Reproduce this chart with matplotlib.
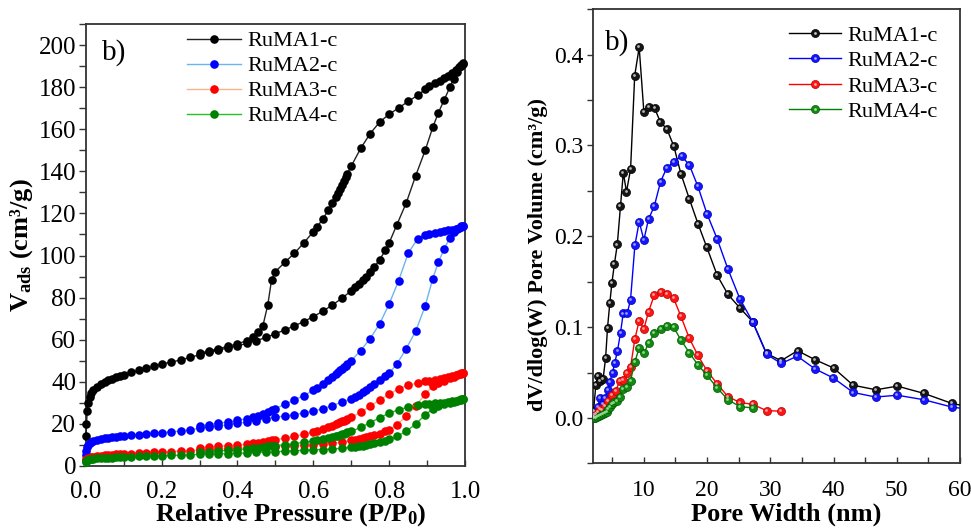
import matplotlib
matplotlib.use('Agg')
import matplotlib.pyplot as plt
from matplotlib.ticker import MultipleLocator, FormatStrFormatter
from matplotlib.transforms import offset_copy
from matplotlib.legend_handler import HandlerTuple

plt.rcParams['font.family'] = ['Liberation Serif', 'DejaVu Serif']
plt.rcParams['mathtext.fontset'] = 'custom'
plt.rcParams['mathtext.rm'] = 'Liberation Serif'
plt.rcParams['mathtext.bf'] = 'Liberation Serif:bold'
plt.rcParams['mathtext.it'] = 'Liberation Serif:italic'

samples = ['RuMA1-c', 'RuMA2-c', 'RuMA3-c', 'RuMA4-c']

# ---------------- N2 isotherms: relative pressure grids ----------------
ads_p = [0.001, 0.002, 0.004, 0.007, 0.01, 0.015, 0.02, 0.03, 0.04, 0.05,
         0.06, 0.07, 0.08, 0.09, 0.10, 0.12, 0.14, 0.16, 0.18, 0.20,
         0.225, 0.25, 0.275, 0.30, 0.325, 0.35, 0.375, 0.40, 0.425, 0.45,
         0.475, 0.50, 0.525, 0.55, 0.575, 0.60, 0.625, 0.65, 0.675, 0.70,
         0.71, 0.72, 0.73, 0.74, 0.75, 0.76, 0.775, 0.79, 0.80, 0.82,
         0.845, 0.87, 0.895, 0.915, 0.93, 0.945, 0.96, 0.97, 0.98, 0.99, 0.995]
des_p = [0.995, 0.99, 0.985, 0.975, 0.965, 0.955, 0.945, 0.935, 0.92, 0.905,
         0.895, 0.875, 0.85, 0.825, 0.80, 0.775, 0.75, 0.725, 0.70, 0.69,
         0.685, 0.68, 0.675, 0.67, 0.665, 0.66, 0.65, 0.64, 0.625, 0.61,
         0.60, 0.575, 0.55, 0.525, 0.50, 0.49, 0.48, 0.467, 0.455, 0.44,
         0.425, 0.40, 0.375, 0.35, 0.325, 0.30]

# adsorbed volume (cm3/g), adsorption branch
ads_v1 = [14, 20, 26, 30, 32.5, 34.5, 35.8, 37.5, 38.8, 39.8,
          40.6, 41.4, 42.1, 42.7, 43.3, 44.4, 45.4, 46.4, 47.4, 48.3,
          49.3, 50.3, 51.5, 52.8, 54, 55, 56, 57, 58.2, 59.5,
          61, 62.8, 64.6, 66.5, 68.6, 70.9, 73.5, 76.4, 79.6, 83.2,
          84.8, 86.5, 88.2, 90, 92, 94.4, 98, 102.5, 106, 114.5,
          125, 138, 150, 161, 168, 174, 180, 184, 187.5, 190, 191]
ads_v2 = [5, 7, 8.8, 10, 10.8, 11.5, 11.9, 12.4, 12.8, 13.1,
          13.4, 13.6, 13.8, 14, 14.2, 14.5, 14.8, 15.1, 15.4, 15.7,
          16.1, 16.5, 17.1, 17.8, 18.4, 18.9, 19.5, 20.1, 20.8, 21.5,
          22.3, 23.1, 23.6, 24.3, 25.1, 26, 27.1, 28.6, 30.2, 31.9,
          32.8, 33.8, 35, 36.2, 37.4, 38.7, 40.6, 42.7, 44, 48.3,
          55.7, 64, 76, 89, 97, 103, 108.5, 111, 112.6, 113.7, 114.2]
ads_v3 = [2.5, 3, 3.4, 3.7, 3.9, 4.1, 4.3, 4.6, 4.8, 5,
          5.2, 5.3, 5.4, 5.5, 5.6, 5.8, 6, 6.1, 6.3, 6.5,
          6.7, 7, 7.2, 7.5, 7.7, 7.9, 8.1, 8.3, 8.5, 8.7,
          8.9, 9.1, 9.3, 9.5, 9.7, 10, 10.3, 10.7, 11.2, 12,
          12.3, 12.7, 13.1, 13.5, 14, 14.5, 15.3, 16.3, 17, 19.5,
          23.5, 28.5, 34, 38, 39.5, 40.5, 41.5, 42.2, 43, 43.8, 44.2]
ads_v4 = [1.8, 2.2, 2.5, 2.8, 3, 3.2, 3.3, 3.5, 3.6, 3.7,
          3.8, 3.9, 4, 4.1, 4.2, 4.3, 4.4, 4.5, 4.6, 4.7,
          4.9, 5, 5.2, 5.4, 5.5, 5.6, 5.8, 5.9, 6.1, 6.3,
          6.5, 6.7, 6.9, 7.1, 7.3, 7.5, 7.7, 7.9, 8.3, 8.8,
          9, 9.3, 9.6, 9.9, 10.3, 10.7, 11.3, 11.9, 12.5, 14,
          16.3, 19.8, 24.2, 27, 28.5, 29.2, 29.8, 30.3, 30.8, 31.3, 31.7]

# adsorbed volume (cm3/g), desorption branch
des_v1 = [191.5, 190.5, 189.5, 188.3, 186.8, 185.5, 184.5, 183.2, 182, 180.5,
          179, 176.2, 173.3, 170.2, 167.2, 163.5, 158, 151, 142.5, 139,
          137.2, 135.5, 133.5, 131.5, 129.5, 127.8, 125, 121.5, 117.5, 113.5,
          111.3, 106, 101, 96.8, 92.3, 88.5, 76.5, 66.5, 63.5, 61,
          59.5, 58, 56.8, 55.7, 54.6, 53.5]
des_v2 = [114.2, 113.8, 113.3, 112.8, 112.3, 112, 111.6, 111.2, 110.8, 110.2,
          109.8, 108, 101, 88, 77, 67.5, 60.5, 54.8, 50, 48.4,
          47.6, 46.8, 46, 45.3, 44.6, 43.8, 42.4, 40.8, 38.8, 37,
          35.8, 33.4, 31.3, 29.2, 27.2, 26.5, 25.6, 24.6, 23.8, 23,
          22.4, 21.6, 20.8, 20.2, 19.6, 19]
des_v3 = [44.3, 44, 43.6, 43.1, 42.6, 42.1, 41.6, 41.2, 40.8, 40.4,
          40.1, 39.4, 38.3, 36.6, 34, 31.3, 28.3, 25.4, 23, 22.3,
          21.9, 21.5, 21.1, 20.7, 20.3, 19.9, 19.1, 18.3, 17.3, 16.5,
          16, 14.9, 13.9, 13.1, 12.4, 12.1, 11.8, 11.4, 11, 10.6,
          10.2, 9.8, 9.5, 9.2, 8.9, 8.6]
des_v4 = [31.8, 31.5, 31.2, 30.9, 30.6, 30.3, 30, 29.8, 29.6, 29.4,
          29.3, 28.9, 27.9, 26.6, 25, 22.8, 20.5, 18.2, 16.3, 15.8,
          15.5, 15.2, 14.9, 14.6, 14.3, 14, 13.6, 13.1, 12.6, 12.1,
          11.8, 11.1, 10.5, 10, 9.6, 9.4, 9.2, 8.9, 8.6, 8.3,
          8, 7.6, 7.3, 7, 6.7, 6.4]

# ---------------- pore size distributions ----------------
w1 = [2.05, 2.4, 2.7, 3.0, 3.55, 3.95, 4.25, 4.62, 4.95, 5.35, 5.8, 6.3,
      6.75, 7.25, 7.9, 8.55, 9.26, 10.0, 10.8, 11.7, 12.6, 13.65, 14.75,
      15.85, 17.2, 18.55, 19.95, 21.6, 23.3, 25.2, 27.2, 29.4, 31.7, 34.3,
      37.1, 40.0, 43.1, 46.7, 50.1, 54.3, 58.7, 63.0]
d1 = [0.008, 0.036, 0.046, 0.041, 0.043, 0.066, 0.099, 0.127, 0.149, 0.170,
      0.191, 0.233, 0.270, 0.249, 0.274, 0.377, 0.408, 0.337, 0.342, 0.341,
      0.326, 0.318, 0.299, 0.269, 0.241, 0.214, 0.188, 0.157, 0.136, 0.121,
      0.106, 0.071, 0.063, 0.074, 0.064, 0.055, 0.036, 0.031, 0.035, 0.027,
      0.016, 0.010]
w2 = [2.1, 2.7, 3.1, 3.5, 3.9, 4.35, 4.62, 5.04, 5.41, 5.83, 6.31, 6.73,
      7.36, 7.89, 8.58, 9.26, 10.0, 10.74, 11.64, 12.64, 13.59, 14.69, 15.96,
      17.17, 18.54, 19.97, 21.6, 23.29, 25.19, 27.19, 29.41, 31.73, 34.26,
      37.06, 39.96, 43.12, 46.66, 50.08, 54.3, 58.68, 63.0]
d2 = [0.003, 0.012, 0.022, 0.015, 0.022, 0.031, 0.040, 0.050, 0.061, 0.074,
      0.094, 0.115, 0.115, 0.130, 0.190, 0.216, 0.196, 0.219, 0.233, 0.260,
      0.275, 0.282, 0.288, 0.279, 0.255, 0.225, 0.197, 0.164, 0.131, 0.106,
      0.070, 0.060, 0.068, 0.054, 0.044, 0.028, 0.023, 0.025, 0.020, 0.012,
      0.008]
w3 = [2.1, 2.4, 2.7, 3.04, 3.4, 3.8, 4.36, 4.99, 5.57, 6.2, 6.73, 7.26,
      7.89, 8.58, 9.26, 10.0, 10.74, 11.64, 12.64, 13.59, 14.69, 15.85,
      17.17, 18.54, 19.97, 21.6, 23.29, 25.19, 27.19, 29.41, 31.73]
d3 = [0.001, 0.004, 0.007, 0.010, 0.009, 0.013, 0.019, 0.025, 0.030, 0.041,
      0.042, 0.049, 0.056, 0.087, 0.107, 0.098, 0.117, 0.135, 0.139, 0.137,
      0.132, 0.112, 0.088, 0.069, 0.052, 0.0375, 0.0235, 0.017, 0.015,
      0.008, 0.0074]
w4 = [2.1, 2.35, 2.6, 2.9, 3.2, 3.5, 3.8, 4.1, 4.4, 4.7, 5.0, 5.35, 5.7,
      6.2, 6.73, 7.26, 7.89, 8.58, 9.26, 10.0, 10.74, 11.64, 12.64, 13.59,
      14.69, 15.85, 17.17, 18.54, 19.97, 21.6, 23.29, 25.19, 27.19]
d4 = [0.000, 0.000, 0.001, 0.002, 0.003, 0.004, 0.005, 0.007, 0.010, 0.012,
      0.015, 0.017, 0.019, 0.023, 0.032, 0.034, 0.041, 0.062, 0.077, 0.071,
      0.082, 0.093, 0.098, 0.101, 0.100, 0.086, 0.072, 0.0585, 0.047, 0.033,
      0.020, 0.0125, 0.011]

# ---------------- styling ----------------
marker_colors = ['#000000', '#0000ff', '#ff0000', '#008000']
iso_line_colors = ['#222222', '#6cb4f0', '#f4b48c', '#22c322']
psd_line_colors = ['#000000', '#0000ff', '#ff0000', '#008000']
ball_faces = ['#151515', '#1414ff', '#ff1414', '#128a12']
ball_edges = ['#000000', '#0000b0', '#b00000', '#005a00']
ball_lights = ['#c8c8c8', '#a8a8ff', '#ffb0b0', '#9ee09e']

SPINE = '#333333'
fig = plt.figure(figsize=(9.71, 5.30), dpi=100)
ax1 = fig.add_axes([0.0883, 0.1213, 0.3906, 0.8329])
ax2 = fig.add_axes([0.6110, 0.1258, 0.3777, 0.8567])

# ---- left: isotherms ----
ads_sets = [ads_v1, ads_v2, ads_v3, ads_v4]
des_sets = [des_v1, des_v2, des_v3, des_v4]
for i, name in enumerate(samples):
    p = ads_p + des_p
    v = ads_sets[i] + des_sets[i]
    ax1.plot(p, v, '-o', color=iso_line_colors[i], lw=1.0, ms=6.2,
             mfc=marker_colors[i], mec=marker_colors[i], mew=0,
             label=name, clip_on=False, zorder=3)

ax1.set_xlim(0, 1.0)
ax1.set_ylim(0, 210)
ax1.xaxis.set_major_locator(MultipleLocator(0.2))
ax1.xaxis.set_minor_locator(MultipleLocator(0.1))
ax1.yaxis.set_major_locator(MultipleLocator(20))
ax1.yaxis.set_minor_locator(MultipleLocator(10))
ax1.xaxis.set_major_formatter(FormatStrFormatter('%.1f'))
ax1.tick_params(axis='x', which='both', direction='in', length=4.5, width=1.0,
                color=SPINE, labelsize=18, pad=11, top=False)
ax1.tick_params(axis='y', which='both', direction='out', length=5, width=1.0,
                color=SPINE, labelsize=18, pad=2, right=False)
for s in ax1.spines.values():
    s.set_color(SPINE)
    s.set_linewidth(1.3)
ax1.set_xlabel(r'Relative Pressure (P/P$_\mathbf{0}$)', fontsize=19,
               fontweight='bold', va='center')
ax1.xaxis.set_label_coords(0.541, -0.110)
ax1.set_ylabel(r'V$_\mathbf{ads}$ (cm³/g)', fontsize=19, fontweight='bold')
ax1.yaxis.set_label_coords(-0.135, 0.5)
ax1.text(0.043, 0.937, 'b)', transform=ax1.transAxes, fontsize=21,
         va='center', ha='left')
ax1.legend(loc='upper left', bbox_to_anchor=(0.268, 0.985), frameon=False,
           fontsize=16, handlelength=2.4, handletextpad=0.3,
           labelspacing=0.2, borderpad=0, borderaxespad=0, numpoints=1)

# ---- right: pore size distribution ----
w_sets = [w1, w2, w3, w4]
d_sets = [d1, d2, d3, d4]
hl_trans = offset_copy(ax2.transData, fig=fig, x=-0.7, y=0.7, units='points')
handles = []
for i, name in enumerate(samples):
    ln, = ax2.plot(w_sets[i], d_sets[i], '-o', color=psd_line_colors[i], lw=1.0,
                   ms=5.8, mfc=ball_faces[i], mec=ball_edges[i], mew=0.5,
                   zorder=3)
    ax2.plot(w_sets[i], d_sets[i], 'o', ls='none', ms=2.0, mfc=ball_lights[i],
             mec='none', alpha=0.9, transform=hl_trans, zorder=4)
    hl, = ax2.plot([], [], 'o', ls='none', ms=2.0, mfc=ball_lights[i], mec='none')
    handles.append((ln, hl))

ax2.set_xlim(2, 60)
ax2.set_ylim(-0.05, 0.45)
ax2.xaxis.set_major_locator(MultipleLocator(10))
ax2.xaxis.set_minor_locator(MultipleLocator(5))
ax2.yaxis.set_major_locator(MultipleLocator(0.1))
ax2.yaxis.set_minor_locator(MultipleLocator(0.05))
ax2.yaxis.set_major_formatter(FormatStrFormatter('%.1f'))
ax2.tick_params(axis='x', which='both', direction='in', length=4.5, width=1.0,
                color=SPINE, labelsize=17, pad=12, top=False)
ax2.tick_params(axis='y', which='both', direction='out', length=4, width=1.0,
                color=SPINE, labelsize=17, pad=3, right=False)
for s in ax2.spines.values():
    s.set_color(SPINE)
    s.set_linewidth(1.3)
ax2.set_xlabel('Pore Width (nm)', fontsize=19, fontweight='bold', va='center')
ax2.xaxis.set_label_coords(0.526, -0.112)
ax2.set_ylabel('dV/dlog(W) Pore Volume (cm³/g)', fontsize=16, fontweight='bold')
ax2.yaxis.set_label_coords(-0.123, 0.46)
ax2.text(0.032, 0.926, 'b)', transform=ax2.transAxes, fontsize=21,
         va='center', ha='left')
ax2.legend(handles, samples, handler_map={tuple: HandlerTuple(ndivide=1)},
           loc='upper left', bbox_to_anchor=(0.535, 0.965), frameon=False,
           fontsize=16, handlelength=2.3, handletextpad=0.3, labelspacing=0.22,
           borderpad=0, borderaxespad=0, numpoints=1)

fig.savefig('out.png', dpi=100)
